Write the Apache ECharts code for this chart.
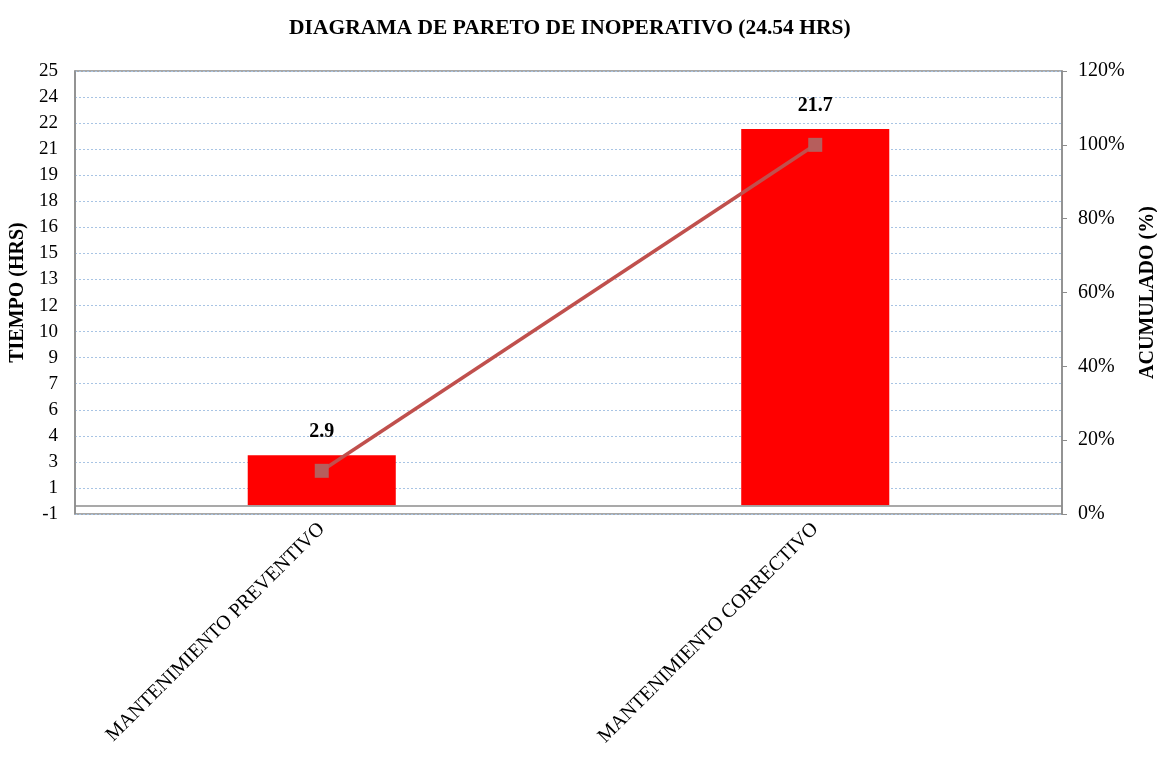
<!DOCTYPE html>
<html>
<head>
<meta charset="utf-8">
<script src="https://cdn.jsdelivr.net/npm/echarts@6/dist/echarts.min.js"></script>
<style>html,body{margin:0;padding:0;background:#fff;}#c{width:1157px;height:758px;}</style>
</head>
<body>
<div id="c"></div>
<script>
const titleText = 'DIAGRAMA DE PARETO DE INOPERATIVO (24.54 HRS)';
const categories = ['MANTENIMIENTO PREVENTIVO', 'MANTENIMIENTO CORRECTIVO'];
const hours = [2.88, 21.66];
const cumulative = [0.117, 1.0];
const leftTickLabels = ['-1','1','3','4','6','7','9','10','12','13','15','16','18','19','21','22','24','25'];
const rightTickLabels = ['0%','20%','40%','60%','80%','100%','120%'];

const serif = '"Liberation Serif", "Times New Roman", serif';
const chart = echarts.init(document.getElementById('c'));
chart.setOption({
  animation: false,
  backgroundColor: '#fff',
  title: {
    text: titleText, left: 284, top: 12,
    textStyle: { fontFamily: serif, fontWeight: 'bold', fontSize: 21.5, color: '#000' }
  },
  grid: { left: 75, right: 95, top: 71, bottom: 244, containLabel: false, outerBoundsMode: 'none',
    show: true, borderColor: '#8c8c8c', borderWidth: 1.5, backgroundColor: 'transparent' },
  xAxis: {
    type: 'category', data: categories,
    axisLine: { show: false },
    axisTick: { show: false },
    axisLabel: { rotate: 45, fontFamily: serif, fontSize: 20, color: '#000', margin: 12, interval: 0 }
  },
  yAxis: [
    {
      type: 'value', min: -0.5, max: 25, interval: 1.5,
      name: 'TIEMPO (HRS)', nameLocation: 'middle', nameGap: 45, nameRotate: 90,
      nameTextStyle: { fontFamily: serif, fontWeight: 'bold', fontSize: 20, color: '#000' },
      axisLine: { show: true, lineStyle: { color: '#8c8c8c', width: 1.5 } },
      axisTick: { show: false },
      axisLabel: { fontFamily: serif, fontSize: 19, color: '#000', margin: 17,
        formatter: (v, i) => leftTickLabels[i] },
      splitLine: { show: true, lineStyle: { color: '#a8c4e4', type: [2, 2], width: 1 } }
    },
    {
      type: 'value', min: 0, max: 1.2, interval: 0.2, position: 'right',
      name: 'ACUMULADO (%)', nameLocation: 'middle', nameGap: 76, nameRotate: 90,
      nameTextStyle: { fontFamily: serif, fontWeight: 'bold', fontSize: 20, color: '#000' },
      axisLine: { show: true, lineStyle: { color: '#8c8c8c', width: 1.5 } },
      axisTick: { show: true, length: 5, lineStyle: { color: '#8c8c8c' } },
      axisLabel: { fontFamily: serif, fontSize: 20, color: '#000', margin: 16,
        formatter: (v, i) => rightTickLabels[i] },
      splitLine: { show: false }
    }
  ],
  series: [
    {
      type: 'bar', data: hours, yAxisIndex: 0, barWidth: '30%',
      itemStyle: { color: '#ff0000' },
      label: { show: true, position: 'top', distance: 13, fontFamily: serif, fontWeight: 'bold', fontSize: 20, color: '#000',
        formatter: p => p.value.toFixed(1) },
      markLine: {
        silent: true, symbol: ['none', 'none'], label: { show: false },
        lineStyle: { color: '#8c8c8c', type: 'solid', width: 1.5 },
        data: [{ yAxis: 0 }]
      }
    },
    {
      type: 'line', data: cumulative, yAxisIndex: 1,
      lineStyle: { color: '#c0504d', width: 3.5 },
      symbol: 'rect', symbolSize: 14,
      itemStyle: { color: '#b65e5c' }
    }
  ]
});
</script>
</body>
</html>
